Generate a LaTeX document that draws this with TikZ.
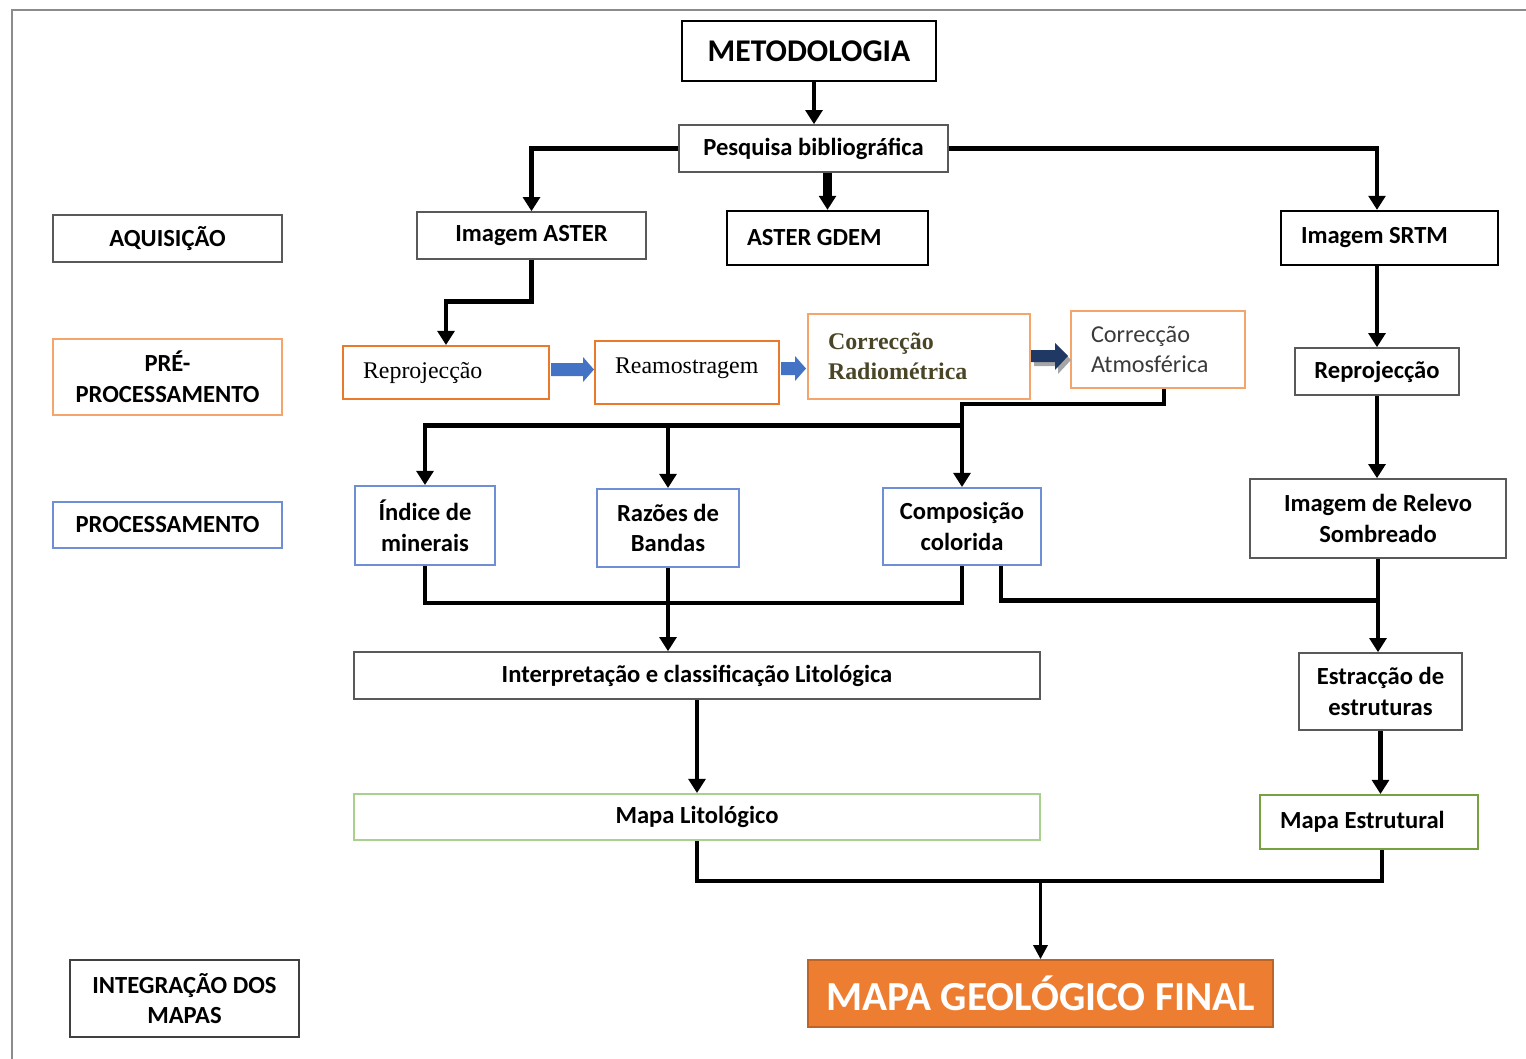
\documentclass[tikz,border=0pt]{standalone}
\usepackage{fontspec}
\setmainfont{Carlito}
\newfontfamily\serifx{Liberation Serif}
\usetikzlibrary{arrows.meta,calc}
\definecolor{orL}{HTML}{F4A56B}
\definecolor{orD}{HTML}{E97A2B}
\definecolor{blB}{HTML}{6E8FD6}
\definecolor{grL}{HTML}{A9D08E}
\definecolor{grD}{HTML}{77A040}
\definecolor{arB}{HTML}{4472C4}
\definecolor{arN}{HTML}{1F3864}
\definecolor{finO}{HTML}{ED7D31}
\definecolor{oliveT}{HTML}{4A4526}
\definecolor{grayT}{HTML}{3A3A3A}
\definecolor{frameG}{HTML}{8C8C8C}
\newcommand\myfs{\fontsize{14}{17.5}\selectfont}
\newcommand\lefttxt[2]{\parbox{#1}{\raggedright #2}}
\begin{document}
\begin{tikzpicture}[x=0.02cm,y=-0.02cm,
  box/.style={draw, inner sep=0pt, align=center, font=\myfs\bfseries, line width=0.9pt},
  sz/.style 2 args={minimum width=#1cm, minimum height=#2cm},
  lft/.style={inner xsep=0.4cm},
  blk/.style={draw=black, line width=1.3pt},
  gbx/.style={draw=black!65, line width=0.9pt},
  orl/.style={draw=orL, line width=1.1pt},
  ord/.style={draw=orD, line width=1.1pt},
  blb/.style={draw=blB, line width=1.1pt},
  grl/.style={draw=grL, line width=1.1pt},
  grd/.style={draw=grD, line width=1.1pt},
  conn/.style={line width=2.8pt, -{Triangle[width=9.5pt,length=8pt]}},
  link/.style={line width=2.8pt},
  thinconn/.style={line width=1.8pt, -{Triangle[width=8pt,length=8pt]}}
]
\useasboundingbox (0,0) rectangle (1526,1059);
% frame
\draw[frameG, line width=1.6pt] (12,1059) -- (12,10) -- (1526,10);

% left column labels
\node[box, gbx, sz={4.58}{0.94}] (aqui) at (167.5,238.5) {AQUISIÇÃO};
\node[box, orl, sz={4.58}{1.52}] (pre) at (167.5,377) {PRÉ-\\PROCESSAMENTO};
\node[box, blb, sz={4.58}{0.92}] (proc) at (167.5,525) {PROCESSAMENTO};
\node[box, blk, draw=black!75, sz={4.58}{1.54}] (integ) at (184.5,998.5) {INTEGRAÇÃO DOS\\MAPAS};

% top
\node[box, blk, sz={5.08}{1.2}, font=\fontsize{18}{21}\selectfont\bfseries] (meto) at (809,51) {METODOLOGIA};
\node[box, gbx, sz={5.38}{0.94}] (pesq) at (813.5,148.5) {Pesquisa bibliográfica};
\node[box, gbx, sz={4.58}{0.94}] (iaster) at (531.5,235.5) {Imagem ASTER};
\node[box, blk, sz={4.02}{1.08}, lft] (gdem) at (827.5,238) {\lefttxt{3.22cm}{ASTER GDEM}};
\node[box, blk, sz={4.34}{1.08}, lft] (srtm) at (1389.5,238) {\lefttxt{3.54cm}{Imagem SRTM}};

% pre-processing
\node[box, ord, sz={4.12}{1.06}, lft, font=\serifx\fontsize{13.6}{15}\selectfont] (repro1) at (446,372.5) {\lefttxt{3.32cm}{Reprojecção}};
\node[box, ord, sz={3.68}{1.26}, lft, font=\serifx\fontsize{13.6}{15}\selectfont] (ream) at (687,372.5) {\raisebox{0.26cm}{\lefttxt{2.88cm}{Reamostragem}}};
\node[box, orl, sz={4.44}{1.70}, lft, text=oliveT, font=\serifx\fontsize{13.6}{17}\selectfont\bfseries] (radio) at (919,356.5) {\lefttxt{3.64cm}{Correcção\\Radiométrica}};
\node[box, orl, sz={3.48}{1.54}, lft, text=grayT, font=\fontsize{13.8}{17}\selectfont] (atmo) at (1158,349.5) {\lefttxt{2.68cm}{Correcção\\Atmosférica}};
\node[box, gbx, sz={3.28}{0.94}] (repro2) at (1377,371.5) {Reprojecção};

% block arrows
\fill[arB] (551,363) -- (583,363) -- (583,357) -- (594,369.5) -- (583,382) -- (583,376) -- (551,376) -- cycle;
\fill[arB] (781,362) -- (795,362) -- (795,356) -- (806,368.5) -- (795,381) -- (795,375) -- (781,375) -- cycle;
\fill[black!35] (1034,354) -- (1058,354) -- (1058,347) -- (1071,360) -- (1058,374) -- (1058,366) -- (1034,366) -- cycle;
\fill[arN] (1031,350) -- (1055,350) -- (1055,343) -- (1068,356) -- (1055,370) -- (1055,362) -- (1031,362) -- cycle;

% processing
\node[box, blb, sz={2.8}{1.58}] (indice) at (425,525.5) {Índice de\\minerais};
\node[box, blb, sz={2.84}{1.56}] (razoes) at (668,528) {Razões de\\Bandas};
\node[box, blb, sz={3.16}{1.54}] (compo) at (962,526.5) {Composição\\colorida};
\node[box, gbx, sz={5.12}{1.58}] (relevo) at (1378,518.5) {Imagem de Relevo\\Sombreado};

% interpretation
\node[box, gbx, sz={13.72}{0.94}] (interp) at (697,675.5) {Interpretação e classificação Litológica};
\node[box, gbx, sz={3.26}{1.54}] (estr) at (1380.5,691.5) {Estracção de\\estruturas};
\node[box, grl, sz={13.72}{0.92}] (mlito) at (697,817) {Mapa Litológico};
\node[box, grd, sz={4.36}{1.08}, lft] (mest) at (1369,822) {\lefttxt{3.56cm}{Mapa Estrutural}};

% final
\node[box, fill=finO, draw=finO!80!black, line width=1pt, text=white, sz={9.3}{1.34}, font=\fontsize{23.5}{28}\selectfont\bfseries] (final) at (1040.5,993.5) {MAPA GEOLÓGICO FINAL};

% connectors
\draw[conn] (meto.south -| 814,0) -- (pesq.north -| 814,0);
\draw[conn] (pesq.west) -| (iaster.north);
\draw[conn, line width=5.5pt] (pesq.south -| gdem.north) -- (gdem.north);
\draw[conn] (pesq.east) -| (srtm.north -| repro2.north);
\draw[conn] (iaster.south) -- ++(0,42) -| (repro1.north);
\draw[conn] (srtm.south -| repro2.north) -- (repro2.north);
\draw[conn] (repro2.south) -- (repro2.south |- relevo.north);

\draw[conn] ([xshift=0.12cm]atmo.south) -- ++(0,15) -| (compo.north);
\coordinate (br) at ($(compo.north)+(0,-62)$);
\draw[conn] (br) -| (indice.north);
\draw[conn] (br -| razoes.north) -- (razoes.north);

\draw[link] (indice.south) -- ++(0,37) -| (compo.south);
\draw[conn] (razoes.south) -- (razoes.south |- interp.north);
\coordinate (j2) at ($(relevo.south)+(0,42)$);
\draw[link] ([xshift=0.78cm]compo.south) |- (j2);
\draw[conn] (relevo.south) -- (relevo.south |- estr.north);
\draw[conn] (estr.south) -- (estr.south |- mest.north);
\draw[conn] (interp.south) -- (mlito.north);
\draw[link] (mlito.south) -- ++(0,40) -| ([xshift=0.26cm]mest.south);
\coordinate (j3) at ($(final.north)+(0,-76)$);
\draw[thinconn] (j3) -- (final.north);
\end{tikzpicture}
\end{document}
